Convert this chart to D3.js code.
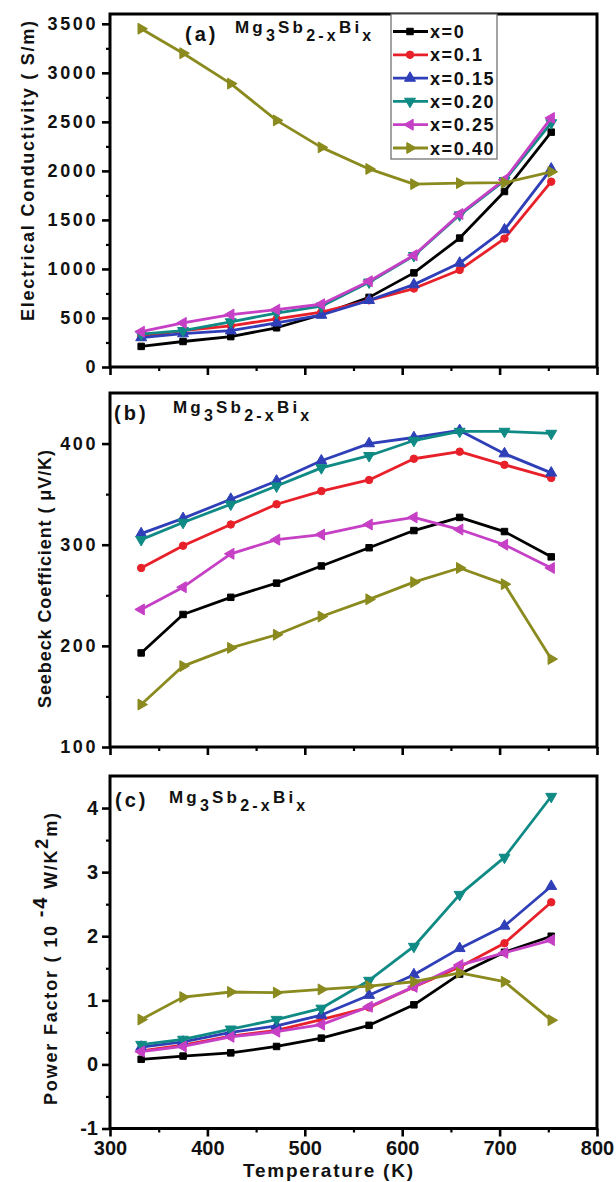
<!DOCTYPE html>
<html>
<head>
<meta charset="utf-8">
<script src="https://cdn.jsdelivr.net/npm/d3@7"></script>
<style>
  html, body { margin: 0; padding: 0; background: #ffffff; }
  svg { display: block; font-family: "Liberation Sans", Arial, Helvetica, sans-serif; font-weight: bold; }
</style>
</head>
<body>
<script>
// ---------- data ----------
const temperatures = [332, 375, 424, 471, 517, 566, 612, 659, 705, 753];
const seriesLabels = ["x=0", "x=0.1", "x=0.15", "x=0.20", "x=0.25", "x=0.40"];

// Electrical conductivity (S/m)
const sigma_x0   = [210, 260, 310, 400, 535, 710, 960, 1315, 1790, 2395];
const sigma_x010 = [310, 370, 420, 490, 560, 680, 800, 990, 1310, 1890];
const sigma_x015 = [300, 340, 370, 450, 530, 680, 840, 1060, 1400, 2020];
const sigma_x020 = [335, 370, 460, 550, 620, 865, 1135, 1550, 1900, 2490];
const sigma_x025 = [360, 450, 535, 585, 640, 875, 1140, 1560, 1910, 2540];
const sigma_x040 = [3450, 3200, 2890, 2515, 2240, 2020, 1865, 1875, 1880, 1990];

// Seebeck coefficient (µV/K)
const seebeck_x0   = [193, 231, 248, 262, 279, 297, 314, 327, 313, 288];
const seebeck_x010 = [277, 299, 320, 340, 353, 364, 385, 392, 379, 366];
const seebeck_x015 = [311, 326, 345, 363, 383, 400, 406, 413, 390, 371];
const seebeck_x020 = [305, 322, 340, 358, 376, 388, 403, 412, 412, 410];
const seebeck_x025 = [236, 258, 291, 305, 310, 320, 327, 315, 300, 277];
const seebeck_x040 = [142, 180, 198, 211, 229, 246, 263, 277, 261, 187];

// Power factor (10^-4 W/K^2 m)
const pf_x0   = [0.08, 0.13, 0.18, 0.28, 0.41, 0.61, 0.93, 1.41, 1.75, 2.00];
const pf_x010 = [0.21, 0.30, 0.44, 0.53, 0.70, 0.89, 1.21, 1.52, 1.89, 2.53];
const pf_x015 = [0.27, 0.35, 0.50, 0.60, 0.77, 1.08, 1.40, 1.81, 2.16, 2.78];
const pf_x020 = [0.31, 0.39, 0.55, 0.70, 0.875, 1.31, 1.84, 2.65, 3.23, 4.18];
const pf_x025 = [0.20, 0.28, 0.43, 0.51, 0.62, 0.90, 1.21, 1.55, 1.74, 1.94];
const pf_x040 = [0.70, 1.05, 1.13, 1.12, 1.17, 1.22, 1.29, 1.43, 1.29, 0.69];

const xTicks = [300, 400, 500, 600, 700, 800];
const yTicksA = [0, 500, 1000, 1500, 2000, 2500, 3000, 3500];
const yTicksB = [100, 200, 300, 400];
const yTicksC = [-1, 0, 1, 2, 3, 4];

// ---------- styles ----------
const colors = ["#000000", "#e8202a", "#2f3fb8", "#0f8a84", "#c640c6", "#8a8a1e"];
const markers = [
  {type: d3.symbolSquare, rot: 0, size: 42},
  {type: d3.symbolCircle, rot: 0, size: 44},
  {type: d3.symbolTriangle, rot: 0, size: 52},
  {type: d3.symbolTriangle, rot: 180, size: 52},
  {type: d3.symbolTriangle, rot: -90, size: 52},
  {type: d3.symbolTriangle, rot: 90, size: 52}
];

const W = 616, H = 1182;
const svg = d3.select("body").append("svg").attr("width", W).attr("height", H);

const x = d3.scaleLinear().domain([300, 800]).range([110, 597]);

const panels = [
  {
    y: d3.scaleLinear().domain([0, 3600]).range([367, 14]),
    top: 14, bottom: 367,
    major: yTicksA, minor: d3.range(250, 3600, 500),
    data: [sigma_x0, sigma_x010, sigma_x015, sigma_x020, sigma_x025, sigma_x040],
    yFont: 18, yLs: 2.6, xLabels: false,
    tag: "(a)", tagX: 185, tagY: 41, mgX: 235, mgY: 33
  },
  {
    y: d3.scaleLinear().domain([100, 450]).range([747, 393]),
    top: 393, bottom: 747,
    major: yTicksB, minor: d3.range(150, 450, 100),
    data: [seebeck_x0, seebeck_x010, seebeck_x015, seebeck_x020, seebeck_x025, seebeck_x040],
    yFont: 18, yLs: 2.6, xLabels: false,
    tag: "(b)", tagX: 114, tagY: 420, mgX: 173, mgY: 413
  },
  {
    y: d3.scaleLinear().domain([-1, 4.5]).range([1128.5, 776]),
    top: 776, bottom: 1128.5,
    major: yTicksC, minor: d3.range(-0.5, 4.5, 1),
    data: [pf_x0, pf_x010, pf_x015, pf_x020, pf_x025, pf_x040],
    yFont: 20, yLs: 0, xLabels: true,
    tag: "(c)", tagX: 115, tagY: 807, mgX: 169, mgY: 803
  }
];

function styleAxis(g, sw) {
  g.select(".domain").remove();
  g.selectAll(".tick line").attr("stroke", "#000").attr("stroke-width", sw);
}

function drawMg(p) {
  const t = svg.append("text")
    .attr("x", p.mgX).attr("y", p.mgY)
    .attr("font-size", 17).attr("letter-spacing", 3.2).attr("fill", "#111");
  t.append("tspan").text("Mg");
  t.append("tspan").attr("dy", 8).attr("font-size", 16).text("3");
  t.append("tspan").attr("dy", -8).text("Sb");
  t.append("tspan").attr("dy", 8).attr("font-size", 16).text("2-x");
  t.append("tspan").attr("dy", -8).text("Bi");
  t.append("tspan").attr("dy", 8).attr("font-size", 16).text("x");
}

panels.forEach((p, pi) => {
  const g = svg.append("g");
  // x ticks
  g.append("g").attr("transform", `translate(0,${p.bottom})`)
    .call(d3.axisBottom(x).tickValues(xTicks).tickSize(8).tickSizeOuter(0).tickPadding(4)
      .tickFormat(p.xLabels ? (d => String(d)) : ""))
    .call(a => styleAxis(a, 2.6))
    .call(a => a.selectAll("text").attr("font-size", 20).attr("font-family", "Liberation Sans, Arial, sans-serif")
      .attr("font-weight", "bold").attr("fill", "#111"));
  g.append("g").attr("transform", `translate(0,${p.bottom})`)
    .call(d3.axisBottom(x).tickValues(d3.range(350, 800, 100)).tickSize(4).tickSizeOuter(0).tickFormat(""))
    .call(a => styleAxis(a, 2.2));
  // y ticks
  g.append("g").attr("transform", `translate(110,0)`)
    .call(d3.axisLeft(p.y).tickValues(p.major).tickSize(8).tickSizeOuter(0).tickPadding(4)
      .tickFormat(d => String(d)))
    .call(a => styleAxis(a, 2.6))
    .call(a => a.selectAll("text").attr("font-size", p.yFont).attr("font-family", "Liberation Sans, Arial, sans-serif")
      .attr("font-weight", "bold").attr("fill", "#111").attr("letter-spacing", p.yLs));
  g.append("g").attr("transform", `translate(110,0)`)
    .call(d3.axisLeft(p.y).tickValues(p.minor).tickSize(4).tickSizeOuter(0).tickFormat(""))
    .call(a => styleAxis(a, 2.2));

  // series
  const line = d3.line().x((d, i) => x(temperatures[i])).y(d => p.y(d));
  p.data.forEach((vals, si) => {
    const sg = g.append("g");
    sg.append("path").attr("d", line(vals)).attr("fill", "none")
      .attr("stroke", colors[si]).attr("stroke-width", 2.8).attr("stroke-linejoin", "round");
    const m = markers[si];
    const sym = d3.symbol().type(m.type).size(m.size);
    sg.selectAll("path.mk").data(vals).join("path").attr("class", "mk")
      .attr("d", sym)
      .attr("transform", (d, i) => `translate(${x(temperatures[i])},${p.y(d)}) rotate(${m.rot})`)
      .attr("fill", colors[si]).attr("stroke", colors[si]).attr("stroke-width", 1);
  });

  // frame
  g.append("rect").attr("x", 110).attr("y", p.top).attr("width", 487).attr("height", p.bottom - p.top)
    .attr("fill", "none").attr("stroke", "#000").attr("stroke-width", 3);

  // tag and formula
  svg.append("text").attr("x", p.tagX).attr("y", p.tagY).attr("font-size", 20)
    .attr("letter-spacing", 3).attr("fill", "#111").text(p.tag);
  drawMg(p);
});

// ---------- legend (panel a) ----------
const lg = svg.append("g");
lg.append("rect").attr("x", 391).attr("y", 14).attr("width", 106).attr("height", 145)
  .attr("fill", "#fff").attr("stroke", "#666").attr("stroke-width", 1.2);
seriesLabels.forEach((lab, si) => {
  const yy = 31.5 + si * 23.3;
  lg.append("line").attr("x1", 393).attr("x2", 428).attr("y1", yy).attr("y2", yy)
    .attr("stroke", colors[si]).attr("stroke-width", 2.8);
  const m = markers[si];
  lg.append("path").attr("d", d3.symbol().type(m.type).size(m.size)())
    .attr("transform", `translate(410,${yy}) rotate(${m.rot})`)
    .attr("fill", colors[si]).attr("stroke", colors[si]).attr("stroke-width", 1);
  lg.append("text").attr("x", 430).attr("y", yy + 6.5).attr("font-size", 18)
    .attr("letter-spacing", 1.6).attr("fill", "#111").text(lab);
});

// ---------- axis titles ----------
svg.append("text")
  .attr("transform", "translate(34,171) rotate(-90)")
  .attr("text-anchor", "middle").attr("font-size", 18).attr("fill", "#111")
  .attr("textLength", 300).attr("lengthAdjust", "spacing")
  .text("Electrical Conductivity ( S/m)");

svg.append("text")
  .attr("transform", "translate(51,579) rotate(-90)")
  .attr("text-anchor", "middle").attr("font-size", 18).attr("fill", "#111")
  .attr("textLength", 258).attr("lengthAdjust", "spacing")
  .text("Seebeck Coefficient ( \u03BCV/K)");

const pf = svg.append("text")
  .attr("transform", "translate(57,959) rotate(-90)")
  .attr("text-anchor", "middle").attr("font-size", 18).attr("fill", "#111")
  .attr("textLength", 292).attr("lengthAdjust", "spacing");
pf.append("tspan").text("Power Factor ( 10 ");
pf.append("tspan").attr("dy", -10).attr("font-size", 20).text("-4");
pf.append("tspan").attr("dy", 10).text(" W/K");
pf.append("tspan").attr("dy", -9).text("2");
pf.append("tspan").attr("dy", 9).text("m)");

svg.append("text")
  .attr("x", 328).attr("y", 1177)
  .attr("text-anchor", "middle").attr("font-size", 19).attr("fill", "#111")
  .attr("textLength", 170).attr("lengthAdjust", "spacing")
  .text("Temperature (K)");
</script>
</body>
</html>
